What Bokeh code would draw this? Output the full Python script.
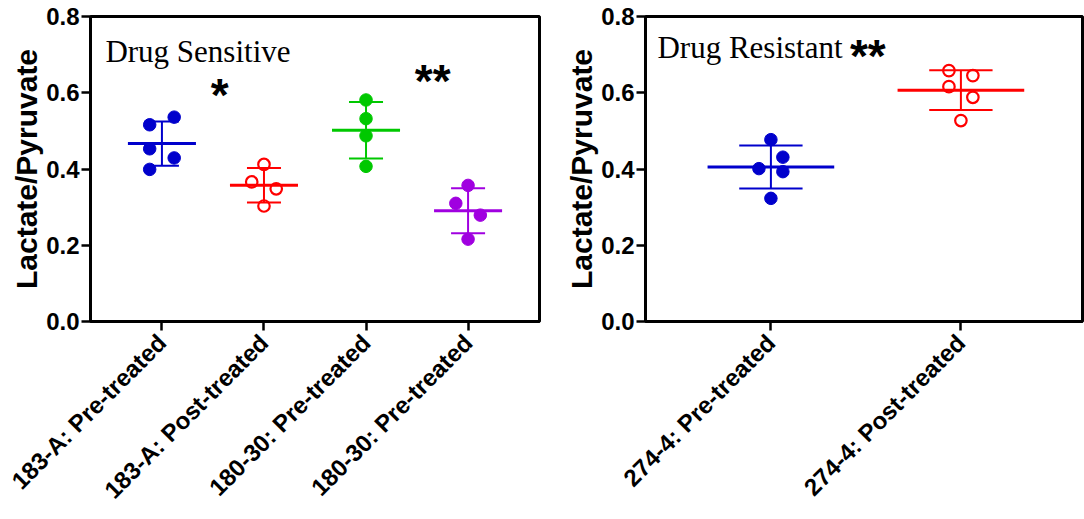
import numpy as np
from math import pi
from bokeh.plotting import figure
from bokeh.layouts import row
from bokeh.models import Range1d, FixedTicker, NumeralTickFormatter, ColumnDataSource
from bokeh.core.properties import value
from bokeh.embed import file_html
from bokeh.resources import INLINE

# ---------------- data ----------------
left_categories = ["183-A: Pre-treated", "183-A: Post-treated",
                   "180-30: Pre-treated", "180-30: Pre-treated"]
left_183A_pre = [0.536, 0.516, 0.453, 0.429, 0.399]
left_183A_post = [0.412, 0.366, 0.348, 0.303]
left_18030_pre = [0.581, 0.532, 0.487, 0.407]
left_18030_pre2 = [0.357, 0.310, 0.279, 0.216]
left_values = [left_183A_pre, left_183A_post, left_18030_pre, left_18030_pre2]
# horizontal scatter slot of each point (-1 left, 0 centre, 1 right)
left_slots = [[1, -1, -1, 1, -1], [0, -1, 1, 0], [0, 0, 0, 0], [0, -1, 1, 0]]
left_colors = ["#0000CC", "#FF0000", "#00C800", "#A000E0"]
left_filled = [True, False, True, True]

right_categories = ["274-4: Pre-treated", "274-4: Post-treated"]
right_274_pre = [0.477, 0.431, 0.401, 0.393, 0.323]
right_274_post = [0.658, 0.645, 0.616, 0.588, 0.527]
right_values = [right_274_pre, right_274_post]
right_slots = [[0, 1, -1, 1, 0], [-1, 1, -1, 1, 0]]
right_colors = ["#0000CC", "#FF0000"]
right_filled = [True, False]

y_ticks = [0.0, 0.2, 0.4, 0.6, 0.8]

SANS = "Liberation Sans"
SERIF = "Liberation Serif"


def make_panel(categories, values, slots, colors, filled, jitter, x_range,
               width, border_left, border_right, border_top, border_bottom):
    p = figure(width=width, height=519, output_backend="svg", toolbar_location=None,
               x_range=x_range, y_range=Range1d(0, 0.8),
               min_border_left=border_left, min_border_right=border_right,
               min_border_top=border_top, min_border_bottom=border_bottom)
    p.xgrid.visible = False
    p.ygrid.visible = False
    p.background_fill_color = "white"
    p.border_fill_color = "white"
    p.outline_line_color = "black"
    p.outline_line_width = 3
    p.outline_line_alpha = 1

    for ax in (p.xaxis[0], p.yaxis[0]):
        ax.axis_line_width = 3
        ax.axis_line_color = "black"
        ax.major_tick_line_width = 2.5
        ax.major_tick_line_color = "black"
        ax.major_tick_out = 9
        ax.major_tick_in = 0
        ax.minor_tick_line_color = None
        ax.major_label_text_font = SANS
        ax.major_label_text_font_style = "bold"
        ax.major_label_text_color = "black"

    p.yaxis.major_label_standoff = 2
    p.xaxis.major_label_standoff = 8
    p.yaxis.major_label_text_font_size = "24px"
    p.xaxis.major_label_text_font_size = "24px"
    p.yaxis.ticker = FixedTicker(ticks=y_ticks)
    p.yaxis.formatter = NumeralTickFormatter(format="0.0")
    p.yaxis.axis_label = "Lactate/Pyruvate"
    p.yaxis.axis_label_text_font = SANS
    p.yaxis.axis_label_text_font_style = "bold"
    p.yaxis.axis_label_text_font_size = "30px"
    p.yaxis.axis_label_text_color = "black"
    p.yaxis.axis_label_standoff = 0

    p.xaxis.ticker = FixedTicker(ticks=list(range(len(categories))))
    p.xaxis.major_label_overrides = {i: c for i, c in enumerate(categories)}
    p.xaxis.major_label_orientation = pi / 4

    for i, (vals, sl, col, fil) in enumerate(zip(values, slots, colors, filled)):
        v = np.array(vals, dtype=float)
        m = float(v.mean())
        sd = float(v.std(ddof=1))
        # mean line
        p.segment(x0=[i - 1 / 3], y0=[m], x1=[i + 1 / 3], y1=[m],
                  line_color=col, line_width=3)
        # SD whisker with caps
        p.segment(x0=[i], y0=[m - sd], x1=[i], y1=[m + sd],
                  line_color=col, line_width=2)
        p.segment(x0=[i - 1 / 6, i - 1 / 6], y0=[m - sd, m + sd],
                  x1=[i + 1 / 6, i + 1 / 6], y1=[m - sd, m + sd],
                  line_color=col, line_width=2)
        xs = [i + s * jitter for s in sl]
        src = ColumnDataSource(dict(x=xs, y=list(v)))
        if fil:
            p.scatter("x", "y", source=src, size=12.5, marker="circle",
                      fill_color=col, line_color=col, line_width=1)
        else:
            p.scatter("x", "y", source=src, size=11.5, marker="circle",
                      fill_color=None, line_color=col, line_width=2.2)
    return p


p1 = make_panel(left_categories, left_values, left_slots, left_colors, left_filled,
                0.12, Range1d(-0.7, 3.7), 560, 90, 21, 16, 196)
p2 = make_panel(right_categories, right_values, right_slots, right_colors, right_filled,
                0.063, Range1d(-0.66, 1.64), 524, 85, 2, 15, 198)

# annotations
p1.text(x=[-0.554], y=[0.683], text=["Drug Sensitive"], text_font=value(SERIF),
        text_font_size=value("31px"), text_align="left", text_baseline="alphabetic",
        y_offset=-10, text_color="black")
p1.text(x=[0.567, 2.653], y=[0.61, 0.646], text=["*", "**"], text_font=value(SANS),
        text_font_size=value("46px"), text_font_style="bold", text_align="center",
        text_baseline="alphabetic", y_offset=6, text_color="black")
p2.text(x=[-0.597], y=[0.692], text=["Drug Resistant"], text_font=value(SERIF),
        text_font_size=value("31px"), text_align="left", text_baseline="alphabetic",
        y_offset=-10, text_color="black")
p2.text(x=[0.51], y=[0.706], text=["**"], text_font=value(SANS),
        text_font_size=value("46px"), text_font_style="bold", text_align="center",
        text_baseline="alphabetic", y_offset=4, text_color="black")

layout = row(p1, p2)
open("out.html", "w").write(file_html(layout, INLINE))
